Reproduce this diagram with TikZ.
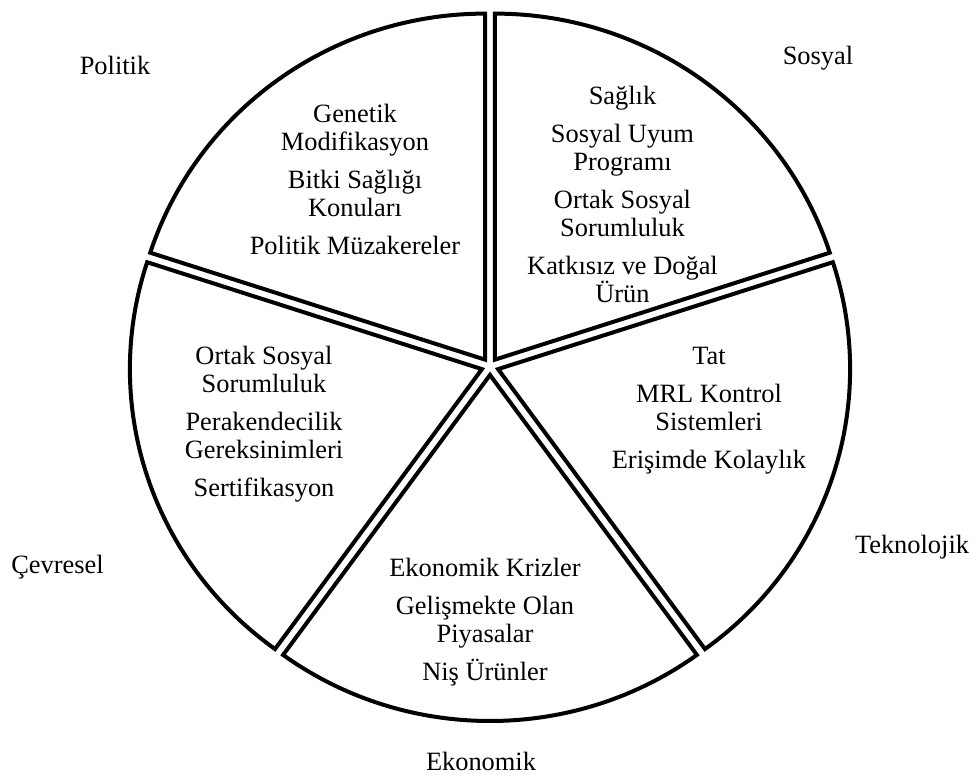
\documentclass[tikz,border=0pt]{standalone}
\usepackage{fontspec}
\setmainfont{Liberation Serif}
\usetikzlibrary{calc}

\begin{document}
\begin{tikzpicture}[x=0.5pt, y=0.5pt, font=\fontsize{13.2}{14}\selectfont,
    slice/.style={draw, line width=2pt},
    items/.style={align=center, inner sep=0pt},
    title/.style={anchor=base, inner sep=0pt}]
        \useasboundingbox (0,0) rectangle (976,778);
        \coordinate (ctr) at (490,411.5);
        % five slices, each pushed out a little along its middle
        \foreach \a/\m/\nm in {18/54/sos,90/126/pol,162/198/cev,234/270/eko,306/342/tek}
            \draw[slice] ($(ctr)+(\m:8.5)$) coordinate (\nm) -- ++(\a:352 and 346)
                arc[start angle=\a, end angle=\a+72, x radius=352, y radius=346] -- cycle;
        \node[items] (polItems) at (355,599) {Genetik\\Modifikasyon\\[5pt]Bitki Sağlığı\\Konuları\\[5pt]Politik Müzakereler};
        \node[items] (sosItems) at (622.5,583.5) {Sağlık\\[5pt]Sosyal Uyum\\Programı\\[5pt]Ortak Sosyal\\Sorumluluk\\[5pt]Katkısız ve Doğal\\Ürün};
        \node[items] (cevItems) at (264,354) {Ortak Sosyal\\Sorumluluk\\[5pt]Perakendecilik\\Gereksinimleri\\[5pt]Sertifikasyon};
        \node[items] (tekItems) at (709,367.5) {Tat\\[5pt]MRL Kontrol\\Sistemleri\\[5pt]Erişimde Kolaylık};
        \node[items] (ekoItems) at (485,155.5) {Ekonomik Krizler\\[5pt]Gelişmekte Olan\\Piyasalar\\[5pt]Niş Ürünler};
        % outer names
        \node[title] (polName) at (115,703) {Politik};
        \node[title] (sosName) at (818,713) {Sosyal};
        \node[title] (tekName) at (912,225) {Teknolojik};
        \node[title] (cevName) at (57.5,205) {Çevresel};
        \node[title] (ekoName) at (481,8) {Ekonomik};
    \end{tikzpicture}
\end{document}
